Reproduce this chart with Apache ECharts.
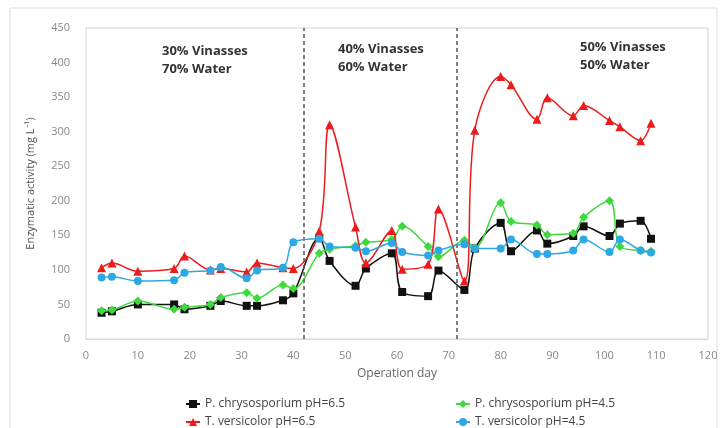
<!DOCTYPE html>
<html>
<head>
<meta charset="utf-8">
<script src="https://cdn.jsdelivr.net/npm/echarts@6/dist/echarts.min.js"></script>
<style>html,body{margin:0;padding:0;background:#fff}#c{width:727px;height:428px}</style>
</head>
<body>
<div id="c"></div>
<script>
var days = [3,5,10,17,19,24,26,31,33,38,40,45,47,52,54,59,61,66,68,73,75,80,82,87,89,94,96,101,103,107,109];
var pc65 = [38,40,50,50,43,48,55,48,48,56,66,146,113,77,102,124,68,62,99,71,131,168,127,157,138,149,163,149,167,171,145];
var pc45 = [41,42,55,43,46,50,60,67,59,78,73,124,130,135,140,144,163,134,119,143,132,197,170,165,151,153,176,200,134,128,127];
var tv65 = [103,110,98,102,120,100,102,97,110,103,102,156,310,162,110,157,101,108,188,84,302,380,368,318,349,323,338,316,307,287,312];
var tv45 = [89,90,84,85,96,99,104,88,99,103,140,145,134,132,127,139,126,121,128,137,131,131,144,123,123,128,144,126,144,128,125];
var seriesNames = ['P. chrysosporium pH=6.5','P. chrysosporium pH=4.5','T. versicolor pH=6.5','T. versicolor pH=4.5'];
var phaseBounds = [42, 71.5];
var phaseLabels = ['30% Vinasses\n70% Water','40% Vinasses\n60% Water','50% Vinasses\n50% Water'];
var xTicks = {min:0,max:120,interval:10};
var yTicks = {min:0,max:450,interval:50};

function pairs(v){ return days.map(function(d,i){ return [d, v[i]]; }); }

var chart = echarts.init(document.getElementById('c'));
var font = 'Open Sans';
var styles = [
  {color:'#111111', symbol:'rect', size:8},
  {color:'#3fd83f', symbol:'diamond', size:9},
  {color:'#ec1c1c', symbol:'triangle', size:9},
  {color:'#2ea8e2', symbol:'circle', size:8}
];
var vals = [pc65, pc45, tv65, tv45];
var series = vals.map(function(v,i){
  var s = {
    name: seriesNames[i], type:'line', data: pairs(v), smooth:0.35,
    symbol: styles[i].symbol, symbolSize: styles[i].size,
    itemStyle:{color:styles[i].color},
    lineStyle:{color:styles[i].color, width:1.5},
    z: 2+i
  };
  if(i===0){
    s.markLine = {
      silent:true, symbol:['none','none'], label:{show:false},
      lineStyle:{color:'#555', type:[4,3], width:1.5},
      data: phaseBounds.map(function(b){ return {xAxis:b}; })
    };
  }
  return s;
});

var legendPos = [[180,393],[450,393],[180,411],[450,411]];
var legends = seriesNames.map(function(n,i){
  return {data:[n], left:legendPos[i][0], top:legendPos[i][1], itemWidth:14, itemHeight:10,
    textStyle:{fontFamily:font, fontSize:12, color:'#444'}};
});

var annPos = [[162,42],[338,40],[580,38]];
var graphics = [{type:'rect', shape:{x:10,y:8,width:707,height:430}, style:{fill:'none', stroke:'#dedede', lineWidth:1}, silent:true, z:-1}];
phaseLabels.forEach(function(t,i){
  graphics.push({type:'text', left:annPos[i][0], top:annPos[i][1],
    style:{text:t, font:'bold 13px "Open Sans"', fill:'#333', lineHeight:18}});
});

chart.setOption({
  animation:false,
  grid:{left:86, right:19, top:28, bottom:89, show:true, borderColor:'#c9d6e3', borderWidth:1},
  legend: legends,
  xAxis:{type:'value', min:xTicks.min, max:xTicks.max, interval:xTicks.interval,
    name:'Operation day', nameLocation:'middle', nameGap:29,
    nameTextStyle:{fontFamily:font, fontSize:12, color:'#666'},
    axisLine:{show:true, lineStyle:{color:'#d9d9d9'}}, axisTick:{show:false},
    axisLabel:{fontFamily:font, fontSize:11, color:'#888', margin:11},
    splitLine:{show:false}},
  yAxis:{type:'value', min:yTicks.min, max:yTicks.max, interval:yTicks.interval,
    name:'Enzymatic activity (mg L\u207B\u00B9)', nameLocation:'middle', nameGap:50,
    nameTextStyle:{fontFamily:font, fontSize:11, color:'#555'},
    axisLine:{show:false}, axisTick:{show:false},
    axisLabel:{fontFamily:font, fontSize:11, color:'#888', margin:16},
    splitLine:{show:false}},
  graphic: graphics,
  series: series
});
</script>
</body>
</html>
